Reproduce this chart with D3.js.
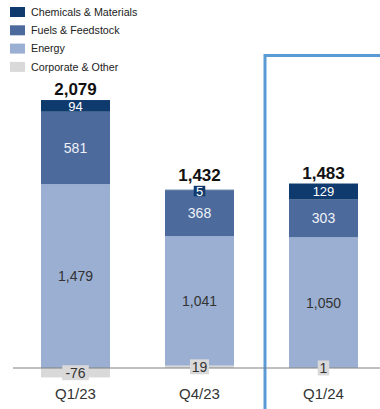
<!DOCTYPE html>
<html>
<head>
<meta charset="utf-8">
<script src="https://cdn.jsdelivr.net/npm/d3@7"></script>
<style>
  html, body { margin: 0; padding: 0; background: #fff; }
  svg { display: block; font-family: "Liberation Sans", Arial, sans-serif; }
</style>
</head>
<body>
<svg id="chart" width="380" height="409"></svg>
<script>
// Quarterly figures by segment
const categories = ["Q1/23", "Q4/23", "Q1/24"];
const chemicals = [94, 5, 129];
const fuels = [581, 368, 303];
const energy = [1479, 1041, 1050];
const corporate = [-76, 19, 1];
const totals = ["2,079", "1,432", "1,483"];

const seriesNames = ["Chemicals & Materials", "Fuels & Feedstock", "Energy", "Corporate & Other"];
const seriesColors = ["#0e3a6d", "#4d6a9d", "#9aafd1", "#d9d9d9"];
const labelColors = ["#ffffff", "#eef2f8", "#333333", "#333333"];

const rows = categories.map((c, i) => ({
  cat: c,
  corporate: corporate[i],
  energy: energy[i],
  fuels: fuels[i],
  chemicals: chemicals[i]
}));

const keys = ["corporate", "energy", "fuels", "chemicals"];
const keyIndex = { chemicals: 0, fuels: 1, energy: 2, corporate: 3 };

const stack = d3.stack().keys(keys).offset(d3.stackOffsetDiverging);
const layers = stack(rows);

const svg = d3.select("#chart");

const x = d3.scaleBand()
  .domain(categories)
  .range([13.5, 385.5])
  .paddingInner(0.4435)
  .paddingOuter(0.2218);

const y = d3.scaleLinear()
  .domain([0, 2000])
  .range([368, 119.2]);

const fmt = v => d3.format(",")(v).replace("\u2212", "-");

// Highlight frame around the latest quarter
svg.append("rect")
  .attr("x", 265)
  .attr("y", 55.5)
  .attr("width", 140)
  .attr("height", 380)
  .attr("fill", "none")
  .attr("stroke", "#5b9bd5")
  .attr("stroke-width", 3);

// Stacked segments
const g = svg.append("g");
layers.forEach(layer => {
  const k = keyIndex[layer.key];
  g.selectAll(null)
    .data(layer)
    .enter()
    .append("rect")
    .attr("x", d => x(d.data.cat))
    .attr("width", x.bandwidth())
    .attr("y", d => y(Math.max(d[0], d[1])))
    .attr("height", d => Math.abs(y(d[0]) - y(d[1])))
    .attr("fill", seriesColors[k]);
});

// Baseline
svg.append("line")
  .attr("x1", 13).attr("x2", 380)
  .attr("y1", y(0)).attr("y2", y(0))
  .attr("stroke", "#808080")
  .attr("stroke-width", 1);

// Segment value labels; thin segments get a small tag behind the number
const tagTop = categories.map(() => Infinity);
layers.forEach(layer => {
  const k = keyIndex[layer.key];
  layer.forEach((d, i) => {
    const v = d.data[layer.key];
    const cx = x(d.data.cat) + x.bandwidth() / 2;
    const isTop = layer.key === "chemicals";
    const small = Math.abs(y(d[0]) - y(d[1])) < 10;
    const cy = (y(d[0]) + y(d[1])) / 2 + (isTop && small ? 1 : 0);
    const txt = fmt(v);
    const lg = svg.append("g");
    if (small) {
      const w = txt.length * 7.5 + 4;
      const h = isTop ? 10.5 : 15;
      lg.append("rect")
        .attr("x", cx - w / 2)
        .attr("y", cy - h / 2)
        .attr("width", w)
        .attr("height", h)
        .attr("fill", seriesColors[k]);
      tagTop[i] = Math.min(tagTop[i], cy - h / 2);
    }
    lg.append("text")
      .attr("x", cx)
      .attr("y", cy)
      .attr("dy", "0.36em")
      .attr("text-anchor", "middle")
      .attr("font-size", isTop ? 13 : 14)
      .attr("fill", labelColors[k])
      .text(txt);
  });
});

// Totals above each bar
const topLayer = layers[layers.length - 1];
topLayer.forEach((d, i) => {
  const top = Math.min(y(d[1]), tagTop[i]);
  svg.append("text")
    .attr("x", x(d.data.cat) + x.bandwidth() / 2)
    .attr("y", top - 5)
    .attr("text-anchor", "middle")
    .attr("font-size", 17)
    .attr("font-weight", "bold")
    .attr("fill", "#111")
    .text(totals[i]);
});

// Category axis labels
const xAxis = d3.axisBottom(x).tickSize(0).tickPadding(0);
const ax = svg.append("g")
  .attr("transform", "translate(0,388.5)")
  .call(xAxis);
ax.select(".domain").remove();
ax.selectAll("text")
  .attr("font-size", 15)
  .attr("fill", "#333")
  .attr("font-family", "Liberation Sans, Arial, sans-serif");

// Legend
const legend = svg.append("g");
seriesNames.forEach((name, i) => {
  const ly = 12 + i * 18.3;
  legend.append("rect")
    .attr("x", 10).attr("y", ly - 5)
    .attr("width", 15).attr("height", 10)
    .attr("fill", seriesColors[i]);
  legend.append("text")
    .attr("x", 31).attr("y", ly)
    .attr("dy", "0.36em")
    .attr("font-size", 10.7)
    .attr("fill", "#222")
    .text(name);
});
</script>
</body>
</html>
